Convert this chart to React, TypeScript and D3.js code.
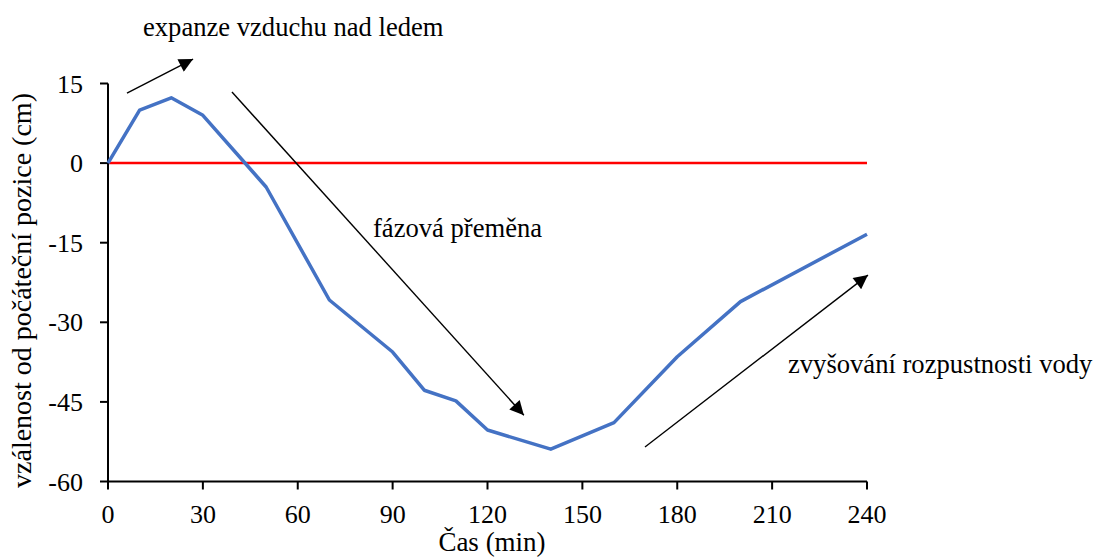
import React from "react";
import * as d3 from "d3";

// Displacement of the probe relative to its starting position over time
const times = [0, 10, 20, 30, 50, 70, 90, 100, 110, 120, 140, 160, 180, 200, 240];
const displacement = [0, 10, 12.3, 9, -4.5, -25.8, -35.6, -42.8, -44.8, -50.3, -53.9, -48.9, -36.5, -26.1, -13.4];

const xTicks = [0, 30, 60, 90, 120, 150, 180, 210, 240];
const yTicks = [15, 0, -15, -30, -45, -60];

// Annotation arrows in data coordinates: [x1, y1, x2, y2]
const arrows: [number, number, number, number][] = [
  [6.0, 13.2, 26.9, 19.6],
  [39.2, 13.4, 131.5, -47.5],
  [169.8, -53.5, 240.3, -21.1],
];

const W = 1098;
const H = 558;
const FONT = '"Liberation Serif", "Times New Roman", "DejaVu Serif", serif';

export default function App() {
  const x = d3.scaleLinear().domain([0, 240]).range([108, 867]);
  const y = d3.scaleLinear().domain([-60, 15]).range([481.5, 83.5]);

  const line = d3
    .line<number>()
    .x((_, i) => x(times[i]))
    .y((d) => y(d));

  const [x0, x1] = x.range();
  const [yb, yt] = y.range();
  const txt = { fontFamily: FONT };

  return (
    <svg
      width={W}
      height={H}
      style={{ position: "absolute", left: 0, top: 0, background: "#fff", fontFamily: FONT }}
    >
      <defs>
        <marker
          id="head"
          viewBox="0 0 10 10"
          refX={10}
          refY={5}
          markerUnits="userSpaceOnUse"
          markerWidth={16}
          markerHeight={14}
          orient="auto"
        >
          <path d="M0,0 L10,5 L0,10 Z" fill="#000" />
        </marker>
      </defs>

      {/* zero reference line */}
      <line x1={x0} x2={x1} y1={y(0)} y2={y(0)} stroke="#ff0000" strokeWidth={2.5} />

      {/* y axis */}
      <line x1={x0} x2={x0} y1={yt} y2={yb} stroke="#000" strokeWidth={2} />
      {yTicks.map((t) => (
        <g key={"y" + t}>
          <line x1={x0 - 8} x2={x0} y1={y(t)} y2={y(t)} stroke="#000" strokeWidth={2} />
          <text
            x={x0 - 25}
            y={y(t)}
            dy="0.35em"
            textAnchor="end"
            fontSize={26}
            fill="#000"
            style={txt}
          >
            {t}
          </text>
        </g>
      ))}

      {/* x axis */}
      <line x1={x0} x2={x1} y1={yb} y2={yb} stroke="#000" strokeWidth={2} />
      {xTicks.map((t) => (
        <g key={"x" + t}>
          <line x1={x(t)} x2={x(t)} y1={yb} y2={yb + 8} stroke="#000" strokeWidth={2} />
          <text x={x(t)} y={523} textAnchor="middle" fontSize={26} fill="#000" style={txt}>
            {t}
          </text>
        </g>
      ))}

      {/* data series */}
      <path
        d={line(displacement) ?? ""}
        fill="none"
        stroke="#4472c4"
        strokeWidth={3.5}
        strokeLinejoin="round"
      />

      {/* annotation arrows */}
      {arrows.map(([ax1, ay1, ax2, ay2], i) => (
        <line
          key={"a" + i}
          x1={x(ax1)}
          y1={y(ay1)}
          x2={x(ax2)}
          y2={y(ay2)}
          stroke="#000"
          strokeWidth={1.4}
          markerEnd="url(#head)"
        />
      ))}

      <text x={143} y={36} fontSize={26.6} fill="#000" style={txt}>
        expanze vzduchu nad ledem
      </text>
      <text x={373} y={237} fontSize={26.6} fill="#000" style={txt}>
        fázová přeměna
      </text>
      <text x={788} y={373} fontSize={26.6} fill="#000" style={txt}>
        zvyšování rozpustnosti vody
      </text>

      {/* axis titles */}
      <text x={492} y={551} textAnchor="middle" fontSize={27} fill="#000" style={txt}>
        Čas (min)
      </text>
      <text
        transform={`translate(31, ${(yt + yb) / 2 + 8}) rotate(-90)`}
        textAnchor="middle"
        fontSize={28}
        fill="#000"
        style={txt}
      >
        vzálenost od počáteční pozice (cm)
      </text>
    </svg>
  );
}
